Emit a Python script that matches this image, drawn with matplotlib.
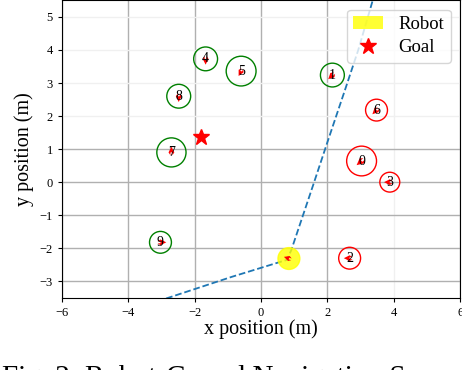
import numpy as np
import matplotlib
matplotlib.use("Agg")
import matplotlib.pyplot as plt
from matplotlib.patches import Circle, Patch
from matplotlib.lines import Line2D

plt.rcParams['font.family'] = ['Liberation Serif', 'DejaVu Serif']
plt.rcParams['mathtext.fontset'] = 'dejavuserif'

# 人の位置, 半径, 速度方向, 色
human_ids = [0, 1, 2, 3, 4, 5, 6, 7, 8, 9]
human_x = [3.03, 2.15, 2.67, 3.88, -1.67, -0.60, 3.48, -2.70, -2.48, -3.03]
human_y = [0.64, 3.24, -2.30, 0.00, 3.73, 3.36, 2.18, 0.90, 2.60, -1.82]
human_r = [0.45, 0.36, 0.33, 0.30, 0.36, 0.45, 0.33, 0.44, 0.36, 0.33]
human_vx = [-0.6, -0.5, -0.7, -0.7, 0.0, -0.3, -0.5, 0.0, 0.0, 0.7]
human_vy = [-0.5, -0.5, 0.0, 0.0, -0.7, -0.6, -0.5, 0.7, -0.7, 0.0]
human_color = ['red', 'green', 'red', 'red', 'green', 'green', 'red', 'green', 'green', 'green']

robot_x, robot_y, robot_r = 0.84, -2.31, 0.33
robot_vx, robot_vy = -0.6, 0.2
goal_x, goal_y = -1.82, 1.36

# ロボットの軌跡
path_x = [-2.86, -0.90, 0.78, 0.91, 1.57, 2.02, 2.53, 2.93, 3.38]
path_y = [-3.52, -2.87, -2.35, -2.06, -0.09, 1.27, 2.79, 4.00, 5.55]

fig = plt.figure(figsize=(4.62, 3.70), dpi=100)
ax = fig.add_axes([0.134, 0.195, 0.862, 0.804])

ax.set_xlim(-6, 6)
ax.set_ylim(-3.5, 5.5)
ax.set_xticks(np.arange(-6, 7, 2))
ax.set_yticks(np.arange(-3, 6, 1))
ax.grid(True, color='#b0b0b0', linewidth=1.0, zorder=0)
# 上の方のグリッドは薄い
for gl, t in zip(ax.get_ygridlines(), ax.get_yticks()):
    if t >= 2:
        gl.set_color('#f0f0f0')
for gl, t in zip(ax.get_xgridlines(), ax.get_xticks()):
    if t == 4:
        gl.set_color('#f0f0f0')
ax.set_axisbelow(True)

ax.plot(path_x, path_y, linestyle='--', color='#1f77b4', linewidth=1.3, zorder=2)

robot = Circle((robot_x, robot_y), robot_r, color='yellow', alpha=0.8, zorder=3)
ax.add_patch(robot)
ax.quiver([robot_x], [robot_y], [robot_vx * 0.25], [robot_vy * 0.25], color='red', scale=1,
          scale_units='xy', angles='xy', width=0.006, headwidth=3, headlength=3, zorder=4)

for i in range(len(human_ids)):
    c = Circle((human_x[i], human_y[i]), human_r[i], fill=False, edgecolor=human_color[i],
               linewidth=1.0, zorder=3)
    ax.add_patch(c)
    ax.text(human_x[i], human_y[i], str(human_ids[i]), ha='center', va='center',
            fontsize=10, color='black', zorder=5)
ax.quiver(human_x, human_y, [v * 0.25 for v in human_vx], [v * 0.25 for v in human_vy],
          color='red', scale=1, scale_units='xy', angles='xy', width=0.006,
          headwidth=3, headlength=3, zorder=4)

ax.plot([goal_x], [goal_y], marker='*', color='red', markersize=12, linestyle='None', zorder=4)

handles = [Patch(facecolor='yellow', alpha=0.8, label='Robot'),
           Line2D([], [], marker='*', color='red', linestyle='None', markersize=12, label='Goal')]
ax.legend(handles=handles, loc='upper right', fontsize=13.5, framealpha=0.8,
          handlelength=1.6, borderpad=0.35, labelspacing=0.3, borderaxespad=0.5)

ax.tick_params(labelsize=9, length=3)
ax.set_xlabel('x position (m)', fontsize=14.5, labelpad=0)
ax.set_ylabel('y position (m)', fontsize=14.5, labelpad=4)

# 元画像ではキャプションが下端で切れている
fig.text(0.005, 0.013, 'Fig. 2: Robot-Crowd Navigation Scenario', fontsize=21, ha='left', va='top')

fig.savefig('out.png', dpi=100)
